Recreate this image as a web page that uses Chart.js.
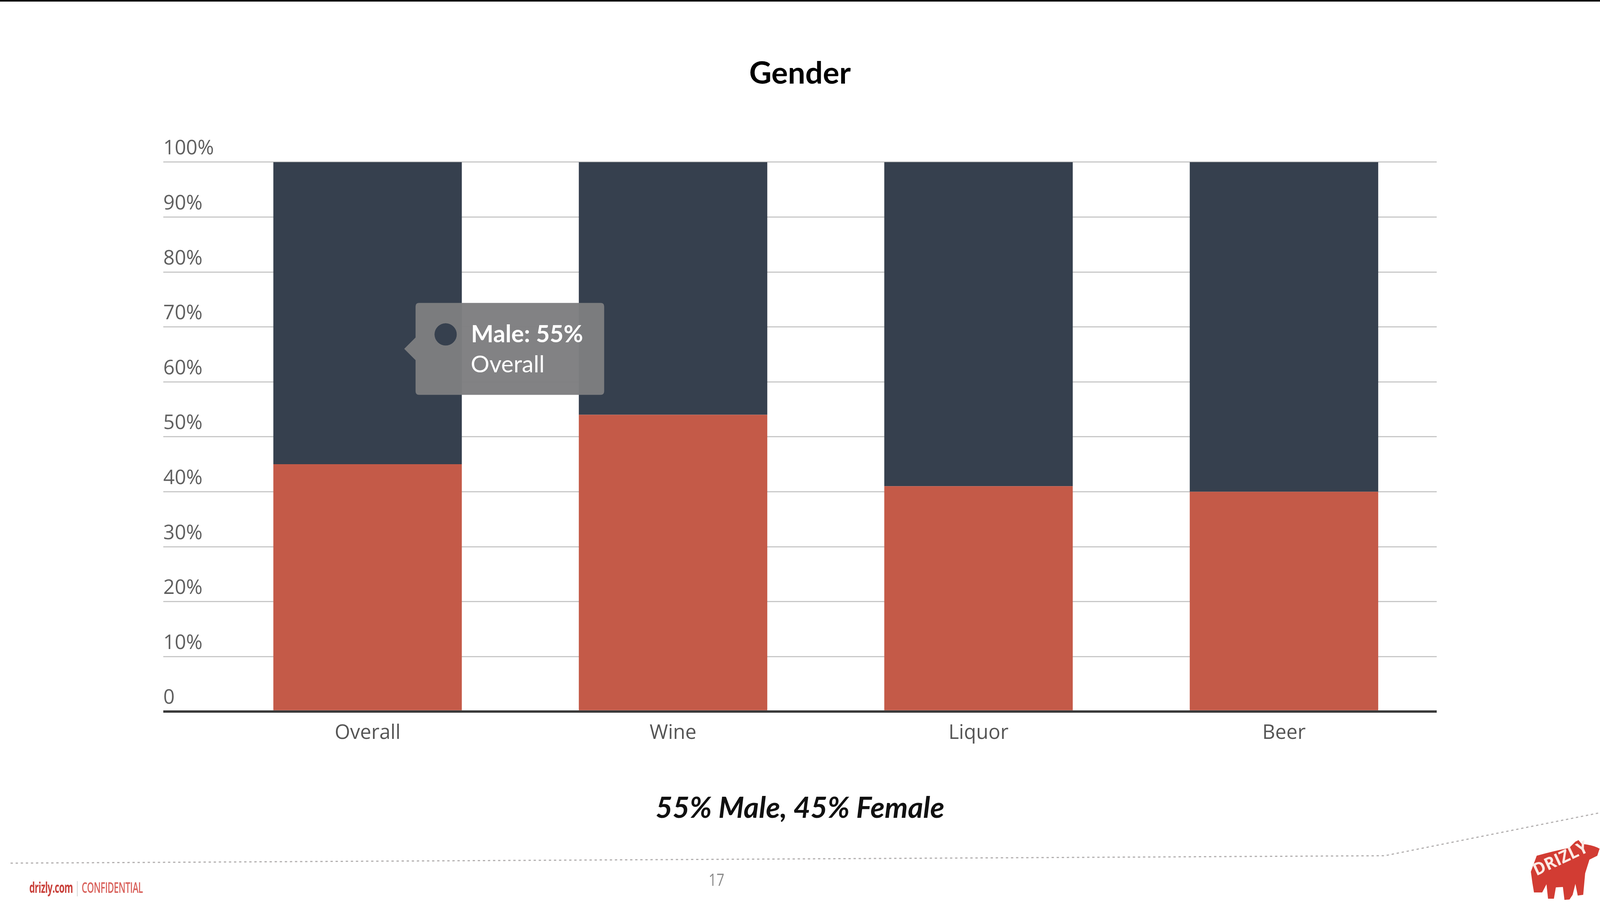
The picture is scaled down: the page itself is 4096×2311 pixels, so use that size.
<!DOCTYPE html>
<html>
<head>
<meta charset="utf-8">
<title>Gender</title>
<script src="https://cdn.jsdelivr.net/npm/chart.js@4/dist/chart.umd.min.js"></script>
<style>
  html, body { margin: 0; padding: 0; background: #ffffff; overflow: hidden; }
  #stage { position: relative; width: 4096px; height: 2311px; background: #ffffff; }
  #chart { position: absolute; left: 0; top: 0; }
  #topbar { position: absolute; left: 0; top: 0; width: 4096px; height: 4px; background: #000; }
  #deco { position: absolute; left: 0; top: 0; }
  #brand { position: absolute; left: 75px; top: 2244px; font-family: "Open Sans", sans-serif; font-size: 38px; font-weight: 700;
           color: #c9403a; white-space: nowrap; transform: scaleX(0.6); transform-origin: left top; letter-spacing: -1px; }
  #brand .conf { color: #d9615b; font-weight: 600; }
  #brand .sep { color: #b0b0b0; font-weight: 300; }
  #page { position: absolute; left: 1814px; top: 2220px; font-family: "Open Sans", sans-serif; font-size: 44px;
          color: #8a8a8a; transform: scaleX(0.8); transform-origin: left top; }
</style>
</head>
<body>
<div id="stage">
  <canvas id="chart" width="4096" height="2311"></canvas>
  <div id="topbar"></div>
  <svg id="deco" width="4096" height="2311" viewBox="0 0 4096 2311">
    <polyline points="27,2209 3545,2190 4096,2080" fill="none" stroke="#b3b0b0" stroke-width="3" stroke-dasharray="6 7"/>
    <g transform="translate(3917,2150)">
      <path d="M2,81 L17,40 Q60,28 100,20 L116,4 L124,0 L132,10 Q160,12 178,22 L172,40 L152,50 L141,85 L136,140 L122,142 L116,112 L109,140 L101,152 L88,153 L84,120 L66,121 L61,150 L46,150 L42,113 L31,134 L10,134 L6,110 Z" fill="#d23c33"/>
      <text x="0" y="0" transform="translate(16,92) rotate(-25)" font-family="'Open Sans', sans-serif" font-weight="700" font-size="44" fill="#fbe9e4" textLength="150" lengthAdjust="spacingAndGlyphs">DRIZLY</text>
    </g>
  </svg>
  <div id="brand">drizly.com <span class="sep">|</span> <span class="conf">CONFIDENTIAL</span></div>
  <div id="page">17</div>
</div>
<script>
// ---- data ----
const categories = ['Overall', 'Wine', 'Liquor', 'Beer'];
const femaleShare = [45, 54, 41, 40];
const maleShare = [55, 46, 59, 60];
const seriesNames = ['Female', 'Male'];
const yTickStep = 10;
const chartTitle = 'Gender';
const chartSubtitle = '55% Male, 45% Female';

const FEMALE_COLOR = '#c45a48';
const MALE_COLOR = '#36404e';

// Tooltip anchored like the mouse position in the reference (in data space)
Chart.Tooltip.positioners.anchored = function (items) {
  if (!items.length) return false;
  const c = this.chart;
  const idx = items[0].index !== undefined ? items[0].index : items[0].dataIndex;
  return {
    x: c.scales.x.getPixelForValue(idx + 0.12),
    y: c.scales.y.getPixelForValue(66)
  };
};

function build() {
  const ctx = document.getElementById('chart').getContext('2d');
  const chart = new Chart(ctx, {
    type: 'bar',
    data: {
      labels: categories,
      datasets: [
        { label: seriesNames[0], data: femaleShare, backgroundColor: FEMALE_COLOR, borderWidth: 0,
          categoryPercentage: 1, barPercentage: 0.617 },
        { label: seriesNames[1], data: maleShare, backgroundColor: MALE_COLOR, borderWidth: 0,
          categoryPercentage: 1, barPercentage: 0.617 }
      ]
    },
    options: {
      responsive: false,
      devicePixelRatio: 1,
      animation: false,
      events: [],
      layout: { padding: { left: 418, right: 418, top: 0, bottom: 197 } },
      scales: {
        x: {
          stacked: true,
          grid: { display: false, drawTicks: false },
          border: { display: false },
          ticks: {
            color: '#555555',
            padding: 25,
            maxRotation: 0,
            autoSkip: false,
            font: { family: "'Open Sans', sans-serif", size: 51 }
          }
        },
        y: {
          stacked: true,
          min: 0,
          max: 100,
          border: { display: false },
          grid: {
            color: (c) => (c.tick && c.tick.value === 0 ? '#3a3a3a' : '#c8c8c8'),
            lineWidth: (c) => (c.tick && c.tick.value === 0 ? 6 : 3),
            drawTicks: true,
            tickLength: 132
          },
          afterFit: (scale) => { scale.width = 132; },
          ticks: {
            stepSize: yTickStep,
            color: '#606060',
            padding: 0,
            crossAlign: 'far',
            labelOffset: -34,
            font: { family: "'Open Sans', sans-serif", size: 51 },
            callback: (v) => (v === 0 ? '0' : v + '%')
          }
        }
      },
      plugins: {
        legend: { display: false },
        title: {
          display: true,
          text: chartTitle,
          color: '#000000',
          font: { family: 'Lato, sans-serif', weight: 'bold', size: 79, lineHeight: 1.2 },
          padding: { top: 141, bottom: 179 }
        },
        subtitle: {
          display: true,
          position: 'bottom',
          text: chartSubtitle,
          color: '#111111',
          font: { family: 'Lato, sans-serif', weight: 'bold', style: 'italic', size: 75, lineHeight: 1.2 },
          padding: { top: 92, bottom: 0 }
        },
        tooltip: {
          enabled: true,
          position: 'anchored',
          xAlign: 'left',
          yAlign: 'center',
          backgroundColor: 'rgba(126,126,128,0.97)',
          cornerRadius: 9,
          caretSize: 29,
          caretPadding: 0,
          padding: { top: 44, bottom: 41, left: 49, right: 54 },
          displayColors: true,
          usePointStyle: true,
          boxWidth: 56,
          boxHeight: 56,
          boxPadding: 35,
          multiKeyBackground: 'rgba(0,0,0,0)',
          bodyColor: '#ffffff',
          footerColor: '#ffffff',
          bodyFont: { family: 'Lato, sans-serif', weight: 'bold', size: 61 },
          footerFont: { family: 'Lato, sans-serif', weight: 'normal', size: 60 },
          footerMarginTop: 5,
          callbacks: {
            title: () => '',
            label: (c) => c.dataset.label + ': ' + c.raw + '%',
            // indent the category line so it lines up with the label text (past the colour dot)
            footer: (items) => '      ' + items[0].label,
            labelColor: (c) => ({ borderColor: c.dataset.backgroundColor, backgroundColor: c.dataset.backgroundColor }),
            labelPointStyle: () => ({ pointStyle: 'circle', rotation: 0 })
          }
        }
      }
    }
  });
  chart.tooltip.setActiveElements([{ datasetIndex: 1, index: 0 }], { x: 0, y: 0 });
  chart.draw();
}

const fontLoads = [
  'bold 79px Lato', 'italic bold 75px Lato', '60px Lato', 'bold 61px Lato', '51px "Open Sans"'
].map((f) => document.fonts.load(f).catch(() => null));
Promise.all(fontLoads).then(build, build);
</script>
</body>
</html>
